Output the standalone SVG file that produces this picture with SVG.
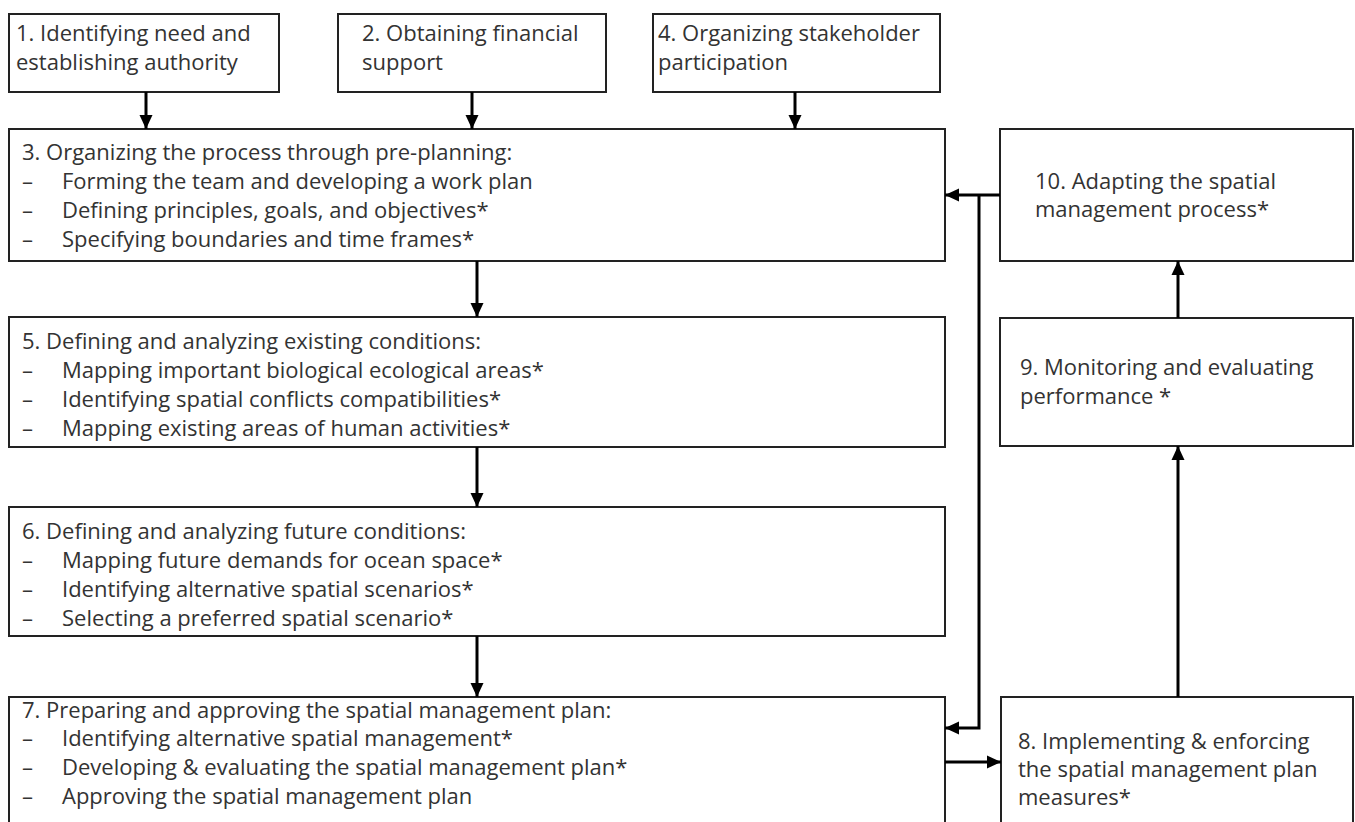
<svg xmlns="http://www.w3.org/2000/svg" width="1355" height="822" viewBox="0 0 1355 822">
  <defs>
    <marker id="ah" markerUnits="userSpaceOnUse" markerWidth="14" markerHeight="14" refX="14" refY="7" orient="auto">
      <path d="M0,0.5 L14,7 L0,13.5 z" fill="#000"/>
    </marker>
    <style>
      .box { fill: #ffffff; stroke: #222222; stroke-width: 2; }
      .t { font-family: "Open Sans", "Noto Sans", "Liberation Sans", sans-serif; font-size: 22px; fill: #333333; }
      .c { fill: none; stroke: #000; stroke-width: 3; marker-end: url(#ah); }
    </style>
  </defs>
  <rect width="1355" height="822" fill="#ffffff"/>

  <g id="node1">
    <rect class="box" x="9" y="14" width="270" height="78"/>
    <text class="t" x="16" y="41">1. Identifying need and</text>
    <text class="t" x="16" y="70">establishing authority</text>
  </g>
  <g id="node2">
    <rect class="box" x="338" y="14" width="268" height="78"/>
    <text class="t" x="362" y="41">2. Obtaining financial</text>
    <text class="t" x="362" y="70">support</text>
  </g>
  <g id="node4">
    <rect class="box" x="653" y="14" width="287" height="78"/>
    <text class="t" x="658" y="41">4. Organizing stakeholder</text>
    <text class="t" x="658" y="70">participation</text>
  </g>
  <g id="node3">
    <rect class="box" x="9" y="129" width="936" height="132"/>
    <text class="t" x="22" y="160">3. Organizing the process through pre-planning:</text>
    <text class="t" x="22" y="189">–</text><text class="t" x="62" y="189">Forming the team and developing a work plan</text>
    <text class="t" x="22" y="218">–</text><text class="t" x="62" y="218">Defining principles, goals, and objectives*</text>
    <text class="t" x="22" y="247">–</text><text class="t" x="62" y="247">Specifying boundaries and time frames*</text>
  </g>
  <g id="node10">
    <rect class="box" x="1000" y="129" width="353" height="132"/>
    <text class="t" x="1035" y="189">10. Adapting the spatial</text>
    <text class="t" x="1035" y="217">management process*</text>
  </g>
  <g id="node5">
    <rect class="box" x="9" y="317" width="936" height="130"/>
    <text class="t" x="22" y="349">5. Defining and analyzing existing conditions:</text>
    <text class="t" x="22" y="378">–</text><text class="t" x="62" y="378">Mapping important biological ecological areas*</text>
    <text class="t" x="22" y="407">–</text><text class="t" x="62" y="407">Identifying spatial conflicts compatibilities*</text>
    <text class="t" x="22" y="436">–</text><text class="t" x="62" y="436">Mapping existing areas of human activities*</text>
  </g>
  <g id="node9">
    <rect class="box" x="1000" y="318" width="353" height="128"/>
    <text class="t" x="1020" y="375">9. Monitoring and evaluating</text>
    <text class="t" x="1020" y="404">performance *</text>
  </g>
  <g id="node6">
    <rect class="box" x="9" y="507" width="936" height="129"/>
    <text class="t" x="22" y="539">6. Defining and analyzing future conditions:</text>
    <text class="t" x="22" y="568">–</text><text class="t" x="62" y="568">Mapping future demands for ocean space*</text>
    <text class="t" x="22" y="597">–</text><text class="t" x="62" y="597">Identifying alternative spatial scenarios*</text>
    <text class="t" x="22" y="626">–</text><text class="t" x="62" y="626">Selecting a preferred spatial scenario*</text>
  </g>
  <g id="node7">
    <rect class="box" x="9" y="697" width="936" height="135"/>
    <text class="t" x="22" y="718">7. Preparing and approving the spatial management plan:</text>
    <text class="t" x="22" y="746">–</text><text class="t" x="62" y="746">Identifying alternative spatial management*</text>
    <text class="t" x="22" y="775">–</text><text class="t" x="62" y="775">Developing &amp; evaluating the spatial management plan*</text>
    <text class="t" x="22" y="804">–</text><text class="t" x="62" y="804">Approving the spatial management plan</text>
  </g>
  <g id="node8">
    <rect class="box" x="1001" y="697" width="352" height="135"/>
    <text class="t" x="1018" y="749">8. Implementing &amp; enforcing</text>
    <text class="t" x="1018" y="777">the spatial management plan</text>
    <text class="t" x="1018" y="805">measures*</text>
  </g>

  <g id="connectors">
    <path class="c" d="M146,92 V129"/>
    <path class="c" d="M472,92 V129"/>
    <path class="c" d="M795,92 V129"/>
    <path class="c" d="M477,261 V317"/>
    <path class="c" d="M477,447 V507"/>
    <path class="c" d="M477,636 V697"/>
    <path class="c" d="M945,762 H1001"/>
    <path class="c" d="M1178,697 V446"/>
    <path class="c" d="M1178,318 V261"/>
    <path class="c" d="M1000,195 H945"/>
    <path class="c" d="M979,195 V728 H945"/>
  </g>
</svg>
